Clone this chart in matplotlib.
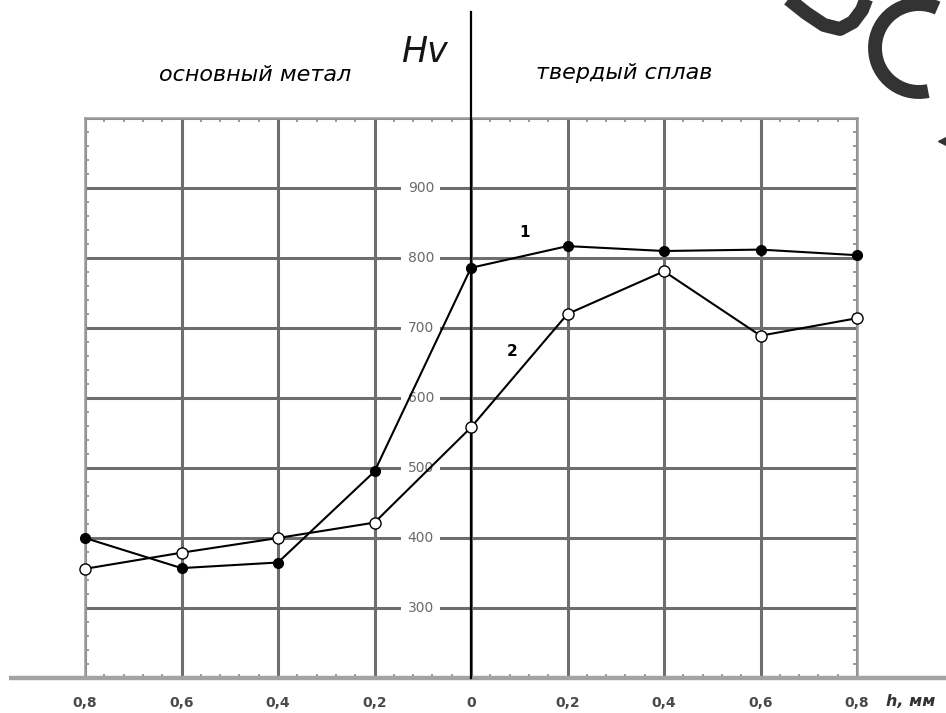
import matplotlib
matplotlib.use("Agg")
import matplotlib.pyplot as plt
from matplotlib.ticker import MultipleLocator
from matplotlib.patches import Arc
from matplotlib.lines import Line2D
from matplotlib.transforms import IdentityTransform

# ---- data ----
depth = [-0.8, -0.6, -0.4, -0.2, 0.0, 0.2, 0.4, 0.6, 0.8]
hv_series1 = [400, 357, 365, 495, 786, 817, 810, 812, 804]
hv_series2 = [356, 379, 400, 422, 558, 720, 781, 689, 714]
x_tick_labels = ["0,8", "0,6", "0,4", "0,2", "0", "0,2", "0,4", "0,6", "0,8"]
y_ticks = [300, 400, 500, 600, 700, 800, 900]
left_title = "основный метал"
right_title = "твердый сплав"

W, H = 946, 713
fig = plt.figure(figsize=(W / 100, H / 100), dpi=100)
ax = fig.add_axes([85 / W, (H - 678) / H, (857 - 85) / W, (678 - 118) / H])
ax.set_xlim(-0.8, 0.8)
ax.set_ylim(200, 1000)

# grid
ax.set_xticks(depth)
ax.set_xticklabels(x_tick_labels, fontsize=10, fontweight="bold", color="#4a4a4a")
ax.set_yticks([200] + y_ticks + [1000])
ax.set_yticklabels([])
ax.grid(True, color="#6e6e6e", lw=2.2)
ax.set_axisbelow(True)
ax.tick_params(which="major", length=0, pad=13)
ax.xaxis.set_minor_locator(MultipleLocator(0.04))
ax.yaxis.set_minor_locator(MultipleLocator(20))
ax.tick_params(which="minor", direction="in", length=3, width=1.2, color="#8a8a8a",
               top=True, right=True, bottom=True, left=True)
for s in ["left", "right", "top"]:
    ax.spines[s].set_color("#9a9a9a")
    ax.spines[s].set_linewidth(1.8)
ax.spines["bottom"].set_visible(False)

# bottom axis line (extended) and vertical zero axis
ax.plot([-0.957, 1.0], [200, 200], color="#a3a3a3", lw=3.2, clip_on=False, zorder=3,
        solid_capstyle="butt")
ax.plot([0, 0], [200, 1152], color="black", lw=1.6, clip_on=False, zorder=3)

# y tick labels placed on the zero line side
for v in y_ticks:
    ax.text(-0.104, v, str(v), ha="center", va="center", fontsize=10, color="#6a6a6a",
            bbox=dict(facecolor="white", edgecolor="none", boxstyle="square,pad=0.45"),
            zorder=2)

# series
ax.plot(depth, hv_series1, color="black", lw=1.5, marker="o", ms=7,
        mfc="black", mec="black", zorder=5, clip_on=False)
ax.plot(depth, hv_series2, color="black", lw=1.5, marker="o", ms=8,
        mfc="white", mec="black", mew=1.0, zorder=5, clip_on=False)
ax.text(0.11, 836, "1", fontsize=11, fontweight="bold", ha="center", va="center")
ax.text(0.085, 666, "2", fontsize=11, fontweight="bold", ha="center", va="center")

# titles
fig.text(401 / W, 1 - 52 / H, "Hv", fontsize=25, style="oblique", fontweight="normal",
         family="DejaVu Sans", ha="left", va="center", color="#151515")
fig.text(255 / W, 1 - 75 / H, left_title, fontsize=16, style="italic",
         family=["Liberation Sans Narrow", "DejaVu Sans"], ha="center", va="center")
fig.text(624 / W, 1 - 73 / H, right_title, fontsize=16, style="italic",
         family=["Liberation Sans Narrow", "DejaVu Sans"], ha="center", va="center")
fig.text(886 / W, 1 - 702 / H, "h, мм", fontsize=11.5, style="italic", fontweight="bold",
         color="#333333", ha="left", va="center")

# decorative watermark fragments (top-right)
idt = IdentityTransform()
fig.add_artist(Arc((919, H - 48), 88, 88, theta1=65, theta2=282, lw=10,
                   color="#333333", transform=idt))
px = [786, 806, 824, 840, 853, 862, 867]
py = [-3, 13, 25, 29, 22, 10, -3]
fig.add_artist(Line2D(px, [H - v for v in py], lw=10, color="#333333",
                      transform=idt, solid_capstyle="butt", solid_joinstyle="round"))
fig.add_artist(Line2D([944], [H - 141], marker="<", ms=9, color="#333333",
                      transform=idt))

fig.savefig("out.png", dpi=100)
